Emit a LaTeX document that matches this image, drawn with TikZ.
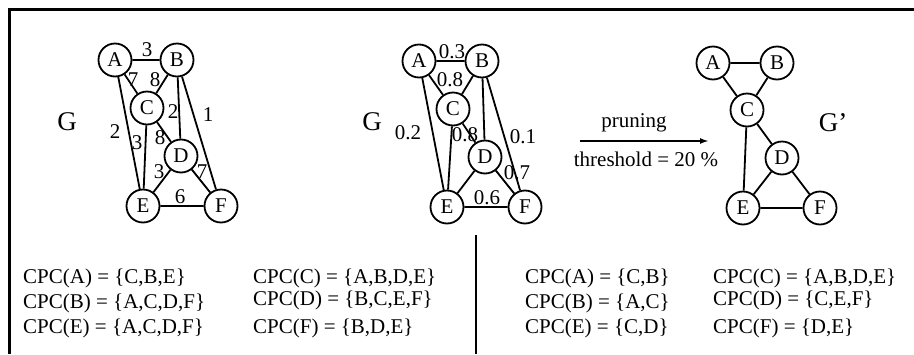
\documentclass[tikz,border=0pt]{standalone}
\usepackage{fontspec}
\setmainfont{Liberation Serif}
\usetikzlibrary{arrows.meta}
\begin{document}
\begin{tikzpicture}[x=1pt,y=-1pt,
  vtx/.style={draw,circle,line width=1.8pt,minimum size=33pt,inner sep=0pt,font=\fontsize{21}{21}\selectfont},
  edge/.style={line width=1.8pt},
  wt/.style={inner sep=0pt,font=\fontsize{21}{21}\selectfont},
  gname/.style={inner sep=0pt,font=\fontsize{27}{27}\selectfont},
  cpc/.style={anchor=base west,inner sep=0pt,font=\fontsize{21}{21}\selectfont}]
\useasboundingbox (0,0) rectangle (914,354);
% open frame: top and left sides only
\draw[line width=3pt] (9,354) -- (9,9) -- (914,9);
\draw[line width=2.5pt] (476,235) -- (476,354);

% original weighted graph G
\begin{scope}
\node[vtx] (a1) at (115,60) {A};
\node[vtx] (b1) at (177,60) {B};
\node[vtx] (c1) at (147,108) {C};
\node[vtx] (d1) at (181,156) {D};
\node[vtx] (e1) at (143,206) {E};
\node[vtx] (f1) at (221,206) {F};
\draw[edge] (a1)--(b1) (a1)--(c1) (b1)--(c1) (a1)--(e1) (c1)--(e1) (c1)--(d1)
  (b1)--(d1) (b1)--(f1) (d1)--(e1) (d1)--(f1) (e1)--(f1);
\node[gname] (g1) at (67,122) {G};
\node[wt] (w1) at (147,50) {3};
\node[wt] (w2) at (133,80) {7};
\node[wt] (w3) at (155,80) {8};
\node[wt] (w4) at (173,112) {2};
\node[wt] (w5) at (208,115) {1};
\node[wt] (w6) at (115,132) {2};
\node[wt] (w7) at (137,143) {3};
\node[wt] (w8) at (160,138) {8};
\node[wt] (w9) at (159,172) {3};
\node[wt] (w10) at (202,172) {7};
\node[wt] (w11) at (180,197) {6};
\end{scope}

% normalised graph G
\begin{scope}
\node[vtx] (a2) at (419,61) {A};
\node[vtx] (b2) at (482,61) {B};
\node[vtx] (c2) at (453,109) {C};
\node[vtx] (d2) at (485,157) {D};
\node[vtx] (e2) at (447,207) {E};
\node[vtx] (f2) at (525,207) {F};
\draw[edge] (a2)--(b2) (a2)--(c2) (b2)--(c2) (a2)--(e2) (c2)--(e2) (c2)--(d2)
  (b2)--(d2) (b2)--(f2) (d2)--(e2) (d2)--(f2) (e2)--(f2);
\node[gname] (g2) at (372,122) {G};
\node[wt] (n1) at (452,52) {0.3};
\node[wt] (n2) at (450,80) {0.8};
\node[wt] (n3) at (408,133) {0.2};
\node[wt] (n4) at (465,135) {0.8};
\node[wt] (n5) at (523,137) {0.1};
\node[wt] (n6) at (517,173) {0.7};
\node[wt] (n7) at (487,198) {0.6};
\end{scope}

% pruning step
\coordinate (p0) at (580,141);
\coordinate (p1) at (709,141);
\draw[line width=1.8pt,-{Latex[length=9pt,width=6pt]}] (p0) -- (p1);
\node[wt] (pr) at (634,123) {pruning};
\node[wt] (th) at (646,159) {threshold = 20 \%};

% pruned graph G'
\begin{scope}
\node[vtx] (a3) at (713,63) {A};
\node[vtx] (b3) at (777,63) {B};
\node[vtx] (c3) at (747,110) {C};
\node[vtx] (d3) at (782,158) {D};
\node[vtx] (e3) at (743,208) {E};
\node[vtx] (f3) at (820,208) {F};
\draw[edge] (a3)--(b3) (a3)--(c3) (b3)--(c3) (c3)--(e3) (c3)--(d3)
  (d3)--(e3) (d3)--(f3) (e3)--(f3);
\node[gname] (g3) at (833,123) {G’};
\end{scope}

% candidate parents and children before pruning
\node[cpc] (ca1) at (23,283) {CPC(A) = \{C,B,E\}};
\node[cpc] (cb1) at (23,308) {CPC(B) = \{A,C,D,F\}};
\node[cpc] (ce1) at (23,333) {CPC(E) = \{A,C,D,F\}};
\node[cpc] (cc1) at (253,283) {CPC(C) = \{A,B,D,E\}};
\node[cpc] (cd1) at (253,305) {CPC(D) = \{B,C,E,F\}};
\node[cpc] (cf1) at (253,333) {CPC(F) = \{B,D,E\}};

% after pruning
\node[cpc] (ca2) at (525,283) {CPC(A) = \{C,B\}};
\node[cpc] (cb2) at (525,308) {CPC(B) = \{A,C\}};
\node[cpc] (ce2) at (525,333) {CPC(E) = \{C,D\}};
\node[cpc] (cc2) at (713,283) {CPC(C) = \{A,B,D,E\}};
\node[cpc] (cd2) at (713,305) {CPC(D) = \{C,E,F\}};
\node[cpc] (cf2) at (713,333) {CPC(F) = \{D,E\}};
\end{tikzpicture}
\end{document}
